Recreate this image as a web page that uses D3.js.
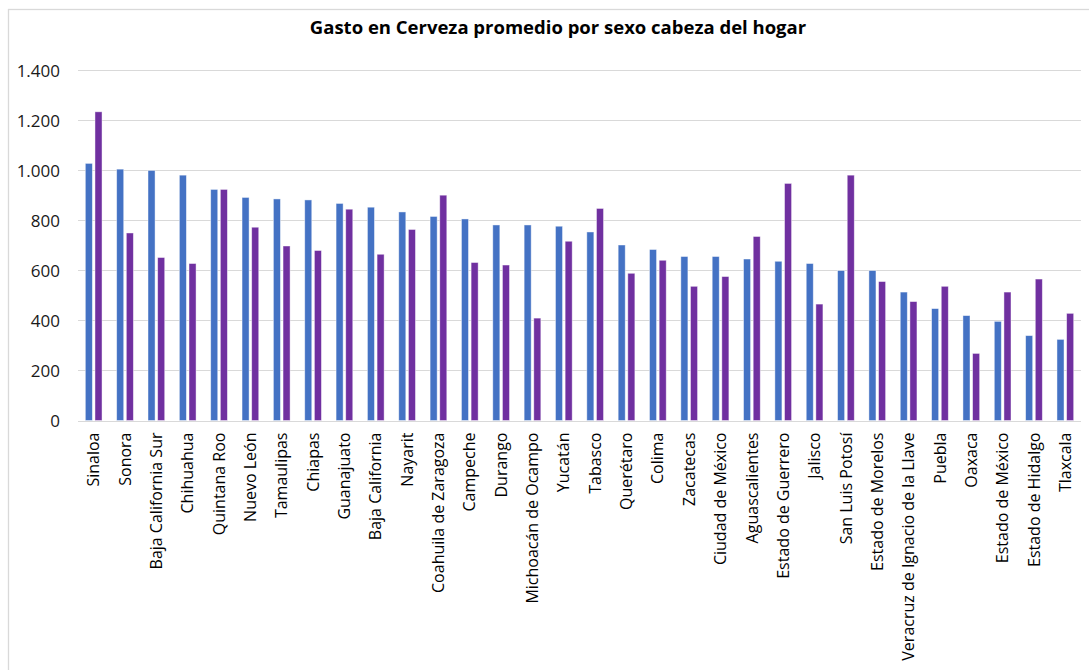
<!DOCTYPE html>
<html>
<head>
<meta charset="utf-8">
<script src="https://cdn.jsdelivr.net/npm/d3@7/dist/d3.min.js"></script>
<style>
  html, body { margin: 0; padding: 0; background: #fff; }
  svg { display: block; }
</style>
</head>
<body>
<svg id="chart" width="1089" height="670"></svg>
<script>
const title = "Gasto en Cerveza promedio por sexo cabeza del hogar";
const categories = ["Sinaloa","Sonora","Baja California Sur","Chihuahua","Quintana Roo","Nuevo León","Tamaulipas","Chiapas","Guanajuato","Baja California","Nayarit","Coahuila de Zaragoza","Campeche","Durango","Michoacán de Ocampo","Yucatán","Tabasco","Querétaro","Colima","Zacatecas","Ciudad de México","Aguascalientes","Estado de Guerrero","Jalisco","San Luis Potosí","Estado de Morelos","Veracruz de Ignacio de la Llave","Puebla","Oaxaca","Estado de México","Estado de Hidalgo","Tlaxcala"];
const hombre = [1027,1004,999,980,923,891,885,881,867,852,833,815,805,781,781,776,753,701,683,655,655,645,636,627,599,599,513,447,419,396,339,324];
const mujer  = [1233,749,651,627,923,772,697,679,844,664,763,900,631,621,409,716,847,588,640,536,575,735,947,465,980,555,475,536,268,513,565,428];
const seriesNames = ["Hombre","Mujer"];
const seriesColors = ["#4472C4","#7030A0"];
const yTicks = [0,200,400,600,800,1000,1200,1400];
const yTickLabels = ["0","200","400","600","800","1.000","1.200","1.400"];

const svg = d3.select("#chart");
const font = "'Open Sans', 'Noto Sans', sans-serif";

// chart frame
svg.append("rect")
  .attr("x", 8.5).attr("y", 9.5)
  .attr("width", 1200).attr("height", 800)
  .attr("fill", "#fff").attr("stroke", "#d9d9d9").attr("stroke-width", 1.3);

const plot = { left: 78, right: 1081, top: 70, bottom: 420.5 };

const x0 = d3.scaleBand().domain(categories)
  .range([plot.left, plot.right]).paddingInner(0.467).paddingOuter(0.2335);
const x1 = d3.scaleBand().domain(seriesNames)
  .range([0, x0.bandwidth()]).paddingInner(0.27);
const y = d3.scaleLinear().domain([0, 1400]).range([plot.bottom, plot.top]);

// gridlines
svg.append("g").selectAll("line").data(yTicks).join("line")
  .attr("x1", plot.left).attr("x2", plot.right)
  .attr("y1", d => Math.round(y(d)) + 0.5).attr("y2", d => Math.round(y(d)) + 0.5)
  .attr("stroke", "#d9d9d9").attr("stroke-width", 1.2);

// y axis labels
const yAxis = d3.axisLeft(y).tickValues(yTicks)
  .tickFormat((d, i) => yTickLabels[i]).tickSize(0).tickPadding(0);
const gy = svg.append("g").attr("transform", `translate(60,0)`).call(yAxis);
gy.select(".domain").remove();
gy.selectAll("text")
  .attr("font-family", font).attr("font-size", 17).attr("fill", "#1a1a1a")
  .attr("dy", "0.36em");

// bars
const data = categories.map((c, i) => ({ cat: c, vals: [hombre[i], mujer[i]] }));
const groups = svg.append("g").selectAll("g").data(data).join("g")
  .attr("transform", d => `translate(${x0(d.cat)},0)`);
groups.selectAll("rect")
  .data(d => d.vals.map((v, j) => ({ key: seriesNames[j], v, j })))
  .join("rect")
  .attr("x", d => x1(d.key))
  .attr("y", d => y(d.v))
  .attr("width", x1.bandwidth())
  .attr("height", d => y(0) - y(d.v))
  .attr("fill", d => seriesColors[d.j])
  .attr("stroke", "#ffffff").attr("stroke-opacity", 0.55).attr("stroke-width", 0.8);

// x axis labels
const xAxis = d3.axisBottom(x0).tickSize(0).tickPadding(0);
const gx = svg.append("g").attr("transform", `translate(0,${plot.bottom})`).call(xAxis);
gx.select(".domain").remove();
gx.selectAll("text")
  .attr("font-family", font).attr("font-size", 16).attr("fill", "#000")
  .attr("transform", "rotate(-90)")
  .attr("text-anchor", "end")
  .attr("x", -12).attr("y", 0).attr("dy", "0.35em");

// title
svg.append("text")
  .attr("x", 558).attr("y", 34)
  .attr("text-anchor", "middle")
  .attr("font-family", font).attr("font-weight", "bold").attr("font-size", 18.5)
  .attr("fill", "#000")
  .text(title);
</script>
</body>
</html>
